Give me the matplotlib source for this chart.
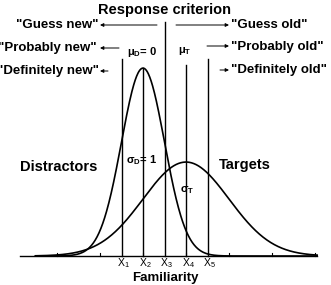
import numpy as np
import matplotlib.pyplot as plt

plt.rcParams['font.family'] = ['Liberation Sans', 'DejaVu Sans']
plt.rcParams['mathtext.default'] = 'regular'

# model parameters (units of sigma_D)
mu_d, sigma_d = 0.0, 1.0
mu_t, sigma_t = 2.0, 2.0
criteria = [-1.0, 0.0, 1.0, 2.0, 3.0]
crit_labels = ['X$_1$', 'X$_2$', 'X$_3$', 'X$_4$', 'X$_5$']
crit_tops = [0.418, 0.399, 0.497, 0.405, 0.418]
ticks = [-4, -2, 0, 2, 4, 6, 8]
x_range = (-5.0, 8.1)
axis_range = (-5.72, 8.09)

left_labels = ['"Guess new"', '"Probably new"', '"Definitely new"']
right_labels = ['"Guess old"', '"Probably old"', '"Definitely old"']

# pixel -> data mapping of the reference picture
X0, SX, Y0, SY = 143.0, 21.5, 256.0, 471.0


def px(x, y):
    return (x - X0) / SX, (Y0 - y) / SY


def pdf(x, mu, s):
    return np.exp(-0.5 * ((x - mu) / s) ** 2) / (s * np.sqrt(2 * np.pi))


fig = plt.figure(figsize=(3.31, 2.85), dpi=100)
ax = fig.add_axes([0, 0, 1, 1])
ax.set_xlim(px(0, 0)[0], px(331, 0)[0])
ax.set_ylim(px(0, 285)[1], px(0, 0)[1])
ax.axis('off')

x = np.linspace(*x_range, 600)
ax.plot(x, pdf(x, mu_d, sigma_d), 'k-', lw=1.2)
ax.plot(x, pdf(x, mu_t, sigma_t), 'k-', lw=1.2)

# baseline and ticks
ax.plot(axis_range, [0, 0], 'k-', lw=1.0)
for t in ticks:
    ax.plot([t, t], [0, 3 / SY], 'k-', lw=0.8)

# criterion lines
for c, top, lab in zip(criteria, crit_tops, crit_labels):
    ax.plot([c, c], [0, top], 'k-', lw=1.0)
    ax.text(c + 2 / SX, px(0, 263)[1], lab, ha='center', va='center', fontsize=7.5)

# response arrows
arrows = [((157, 25), (100, 25)), ((119, 48), (100, 48)), ((108, 71), (100, 71)),
          ((176, 25), (229, 25)), ((207, 46), (229, 46)), ((220, 70), (229, 70))]
for start, end in arrows:
    ax.annotate('', xy=px(*end), xytext=px(*start),
                arrowprops=dict(arrowstyle='-|>', lw=0.7, color='k', mutation_scale=5,
                                shrinkA=0, shrinkB=0))

for lab, yy, xr in zip(left_labels, [25, 48, 71], [99, 97, 99]):
    ax.text(*px(xr, yy), lab, ha='right', va='center', fontsize=9.5, fontweight='bold')
for lab, yy in zip(right_labels, [25, 47, 70]):
    ax.text(*px(231, yy), lab, ha='left', va='center', fontsize=9.5, fontweight='bold')

ax.text(*px(165, 10), 'Response criterion', ha='center', va='center', fontsize=10.5,
        fontweight='bold')
ax.text(*px(142, 52), 'μ$_D$= 0', ha='center', va='center', fontsize=8, fontweight='bold')
ax.text(*px(185, 51), 'μ$_T$', ha='center', va='center', fontsize=8, fontweight='bold')
ax.text(*px(142, 160), 'σ$_D$= 1', ha='center', va='center', fontsize=8, fontweight='bold')
ax.text(*px(187, 190), 'σ$_T$', ha='center', va='center', fontsize=8, fontweight='bold')
ax.text(*px(20, 167), 'Distractors', ha='left', va='center', fontsize=10.5, fontweight='bold')
ax.text(*px(219, 165), 'Targets', ha='left', va='center', fontsize=10.5, fontweight='bold')
ax.text(*px(165, 278), 'Familiarity', ha='center', va='center', fontsize=9.5,
        fontweight='bold')

fig.savefig('out.png', dpi=100)
